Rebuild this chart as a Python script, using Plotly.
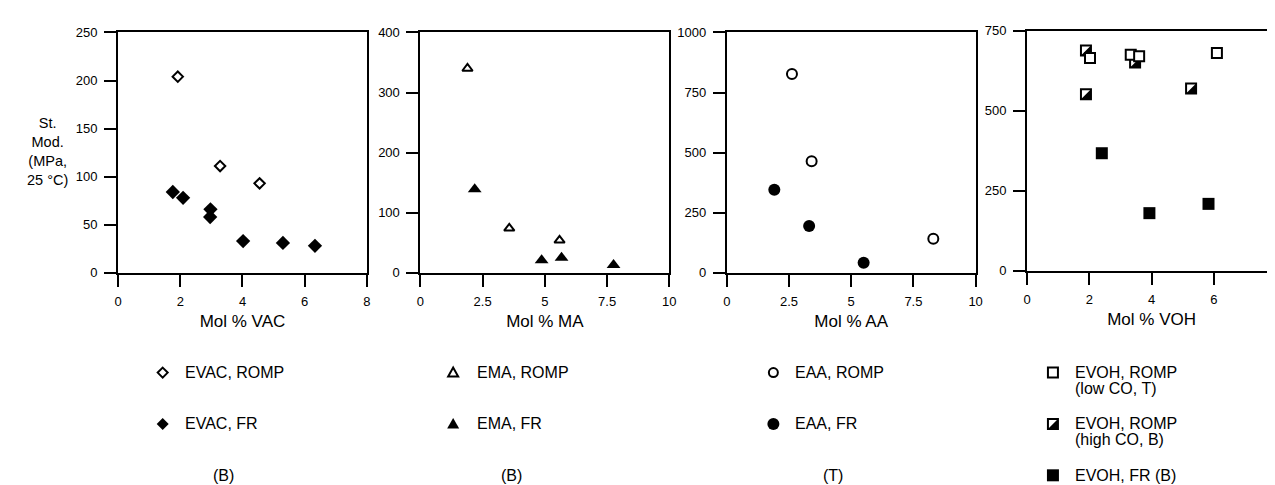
import plotly.graph_objects as go

# ---------------- data ----------------
vac_romp_x = [1.92, 3.28, 4.55]
vac_romp_y = [204, 111, 93]
vac_fr_x = [1.76, 2.09, 2.97, 2.96, 4.02, 5.30, 6.33]
vac_fr_y = [84, 78, 66, 58, 33, 31, 28]

ma_romp_x = [1.89, 3.57, 5.59]
ma_romp_y = [340, 74, 54]
ma_fr_x = [2.18, 4.87, 5.67, 7.76]
ma_fr_y = [139, 21, 25, 13]

aa_romp_x = [2.62, 3.41, 8.30]
aa_romp_y = [827, 464, 142]
aa_fr_x = [1.91, 3.31, 5.50]
aa_fr_y = [345, 195, 42]

voh_low_x = [2.02, 3.33, 3.60, 6.10]
voh_low_y = [664, 674, 670, 680]
voh_high_x = [1.89, 1.89, 3.47, 5.27]
voh_high_y = [688, 551, 650, 569]
voh_fr_x = [2.40, 3.93, 5.83]
voh_fr_y = [367, 180, 209]

x_titles = ["Mol % VAC", "Mol % MA", "Mol % AA", "Mol % VOH"]
x_ranges = [(0, 8), (0, 10), (0, 10), (0, 8)]
x_dticks = [2, 2.5, 2.5, 2]
y_ranges = [(0, 250), (0, 400), (0, 1000), (0, 750)]
y_dticks = [50, 100, 250, 250]
y_title_lines = ["St.", "Mod.", "(MPa,", "25 °C)"]

legend_symbols = [["diamond-open", "diamond"], ["triangle-open", "triangle"],
                  ["circle-open", "circle"], ["square-open", "square-half", "square"]]
legend_labels = [
    [["EVAC, ROMP"], ["EVAC, FR"]],
    [["EMA, ROMP"], ["EMA, FR"]],
    [["EAA, ROMP"], ["EAA, FR"]],
    [["EVOH, ROMP", "(low CO, T)"], ["EVOH, ROMP", "(high CO, B)"], ["EVOH, FR (B)"]],
]
panel_notes = ["(B)", "(B)", "(T)", None]

# ---------------- layout geometry (pixels) ----------------
W, H = 1275, 485
px_x = [(107, 358), (412, 663), (721, 972), (1024, 1275)]
px_y = [(18, 266), (18, 266), (18, 266), (16, 264)]
leg_sym_x = [152, 445, 768, 1050]
leg_txt_x = [172, 467, 788, 1070]
leg_rows = [369, 422, 475]
note_x = [213, 504, 828, None]


def fx(p):
    return p / W


def fy(p):
    return 1 - p / H


fig = go.Figure()
BLACK = "black"


def add(x, y, i, symbol, size, fill):
    fig.add_trace(go.Scatter(
        x=x, y=y, mode="markers",
        xaxis="x" if i == 0 else f"x{i+1}",
        yaxis="y" if i == 0 else f"y{i+1}",
        marker=dict(symbol=symbol, size=size, color=fill,
                    line=dict(color=BLACK, width=0 if fill == BLACK else 2)),
        showlegend=False, cliponaxis=False, hoverinfo="x+y"))


add(vac_romp_x, vac_romp_y, 0, "diamond", 8, "white")
add(vac_fr_x, vac_fr_y, 0, "diamond", 11, BLACK)
add(ma_romp_x, ma_romp_y, 1, "triangle-up", 9, "white")
add(ma_fr_x, ma_fr_y, 1, "triangle-up", 12, BLACK)
add(aa_romp_x, aa_romp_y, 2, "circle", 10, "white")
add(aa_fr_x, aa_fr_y, 2, "circle", 12, BLACK)
add(voh_fr_x, voh_fr_y, 3, "square", 12, BLACK)
# half-filled squares: outline marker (transparent fill) over a black lower-right triangle
add(voh_high_x, voh_high_y, 3, "square", 10, "rgba(0,0,0,0)")
add(voh_low_x, voh_low_y, 3, "square", 10, "white")

shapes = []
HALF_TRI = "M5,5 L5,-5 L-5,-5 Z"
for xv, yv in zip(voh_high_x, voh_high_y):
    shapes.append(dict(type="path", xref="x4", yref="y4", xsizemode="pixel", ysizemode="pixel",
                       xanchor=xv, yanchor=yv, path=HALF_TRI, fillcolor=BLACK,
                       line=dict(width=0), layer="below"))

# legend symbols drawn as shapes (pixel sized, anchored in paper coords)
sym_paths = {
    "diamond": ("M0,6 L6,0 L0,-6 L-6,0 Z", 5.0),
    "triangle": ("M-6,-4.5 L6,-4.5 L0,6 Z", 5.0),
    "square": ("M-5,-5 H5 V5 H-5 Z", 0),
}


def legend_shape(kind, xa, ya):
    out = []
    base = dict(xref="paper", yref="paper", xsizemode="pixel", ysizemode="pixel",
                xanchor=xa, yanchor=ya, layer="above")
    is_open = kind.endswith("-open")
    name = kind.replace("-open", "")
    stroke = dict(color=BLACK, width=2) if is_open else dict(width=0)
    fill = "white" if is_open else BLACK
    if name == "circle":
        r = 4.5 if is_open else 6
        out.append(dict(base, type="circle", x0=-r, x1=r, y0=-r, y1=r,
                        fillcolor=fill, line=stroke))
    elif name == "diamond":
        p = "M0,5 L5,0 L0,-5 L-5,0 Z" if is_open else "M0,6 L6,0 L0,-6 L-6,0 Z"
        out.append(dict(base, type="path", path=p, fillcolor=fill, line=stroke))
    elif name == "triangle":
        p = "M-5,-4 L5,-4 L0,5 Z" if is_open else "M-6,-4.5 L6,-4.5 L0,6 Z"
        out.append(dict(base, type="path", path=p, fillcolor=fill, line=stroke))
    elif name == "square":
        p = "M-5,-5 H5 V5 H-5 Z" if is_open else "M-6,-6 H6 V6 H-6 Z"
        out.append(dict(base, type="path", path=p, fillcolor=fill, line=stroke))
    elif name == "square-half":
        out.append(dict(base, type="path", path="M-5,-5 H5 V5 H-5 Z", fillcolor="white",
                        line=dict(color=BLACK, width=2)))
        out.append(dict(base, type="path", path=HALF_TRI, fillcolor=BLACK, line=dict(width=0)))
    return out


axis_common = dict(showgrid=False, zeroline=False, showline=True, linecolor=BLACK,
                   linewidth=2, mirror=True, ticks="outside", ticklen=12, tickwidth=2,
                   tickcolor=BLACK, tickfont=dict(family="Liberation Sans", size=13, color=BLACK))

for i in range(4):
    xs = "xaxis" if i == 0 else f"xaxis{i+1}"
    ys = "yaxis" if i == 0 else f"yaxis{i+1}"
    anchor_x = "y" if i == 0 else f"y{i+1}"
    anchor_y = "x" if i == 0 else f"x{i+1}"
    fig.layout[xs] = dict(axis_common, domain=[fx(px_x[i][0]), fx(px_x[i][1])],
                          range=list(x_ranges[i]), dtick=x_dticks[i], tick0=0,
                          anchor=anchor_x, ticklabelstandoff=4,
                          title=dict(text=x_titles[i], standoff=7,
                                     font=dict(family="Liberation Sans", size=17, color=BLACK)))
    fig.layout[ys] = dict(axis_common, domain=[fy(px_y[i][1]), fy(px_y[i][0])],
                          range=list(y_ranges[i]), dtick=y_dticks[i], tick0=0,
                          anchor=anchor_y, ticklabelstandoff=4)

annotations = []
annotations.append(dict(x=fx(36), y=fy(141), xref="paper", yref="paper",
                        text="<br>".join(y_title_lines), showarrow=False,
                        xanchor="center", yanchor="middle", align="center",
                        font=dict(family="Liberation Sans", size=14.5, color=BLACK)))

for i in range(4):
    for r, (sym, lines) in enumerate(zip(legend_symbols[i], legend_labels[i])):
        yrow = leg_rows[r]
        shapes.extend(legend_shape(sym, fx(leg_sym_x[i]), fy(yrow)))
        for k, line in enumerate(lines):
            annotations.append(dict(x=fx(leg_txt_x[i]), y=fy(yrow + 16 * k), xref="paper",
                                    yref="paper", text=line, showarrow=False,
                                    xanchor="left", yanchor="middle",
                                    font=dict(family="Liberation Sans", size=16, color=BLACK)))
    if panel_notes[i]:
        annotations.append(dict(x=fx(note_x[i]), y=fy(leg_rows[2]), xref="paper", yref="paper",
                                text=panel_notes[i], showarrow=False, xanchor="center",
                                yanchor="middle",
                                font=dict(family="Liberation Sans", size=16, color=BLACK)))

fig.update_layout(width=W, height=H, margin=dict(l=0, r=0, t=0, b=0),
                  paper_bgcolor="white", plot_bgcolor="white",
                  annotations=annotations, shapes=shapes, showlegend=False)

fig.write_html("out.html")
